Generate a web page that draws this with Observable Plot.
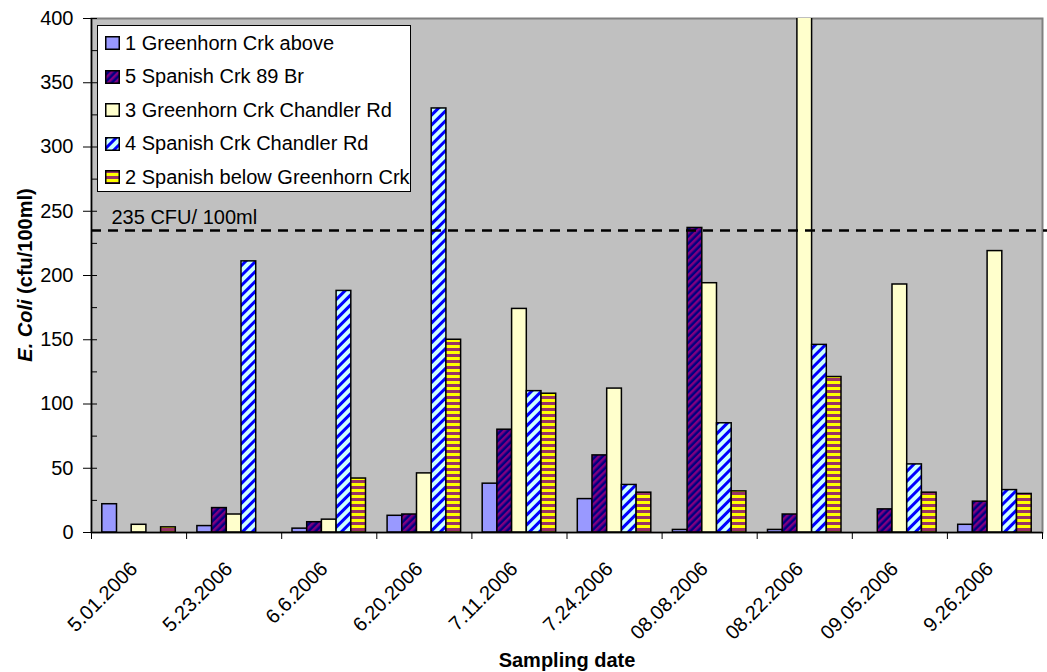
<!DOCTYPE html>
<html>
<head>
<meta charset="utf-8">
<script src="https://cdn.jsdelivr.net/npm/d3@7"></script>
<script src="https://cdn.jsdelivr.net/npm/@observablehq/plot@0.6"></script>
<style>
  html, body { margin: 0; padding: 0; background: #fff; }
  body { font-family: "Liberation Sans", Arial, sans-serif; }
  #wrap { position: relative; width: 1047px; height: 672px; }
  #legend {
    position: absolute; left: 97px; top: 25px; width: 314px; height: 167px;
    background: #fff; border: 1.5px solid #000; box-sizing: border-box;
    font-size: 20px; color: #000;
  }
  .item { position: absolute; left: 0; height: 24px; display: flex; align-items: center; white-space: nowrap; }
  .item svg { margin-left: 7px; margin-right: 5px; }
</style>
</head>
<body>
<svg width="0" height="0" style="position:absolute">
  <defs>
    <pattern id="pat2" patternUnits="userSpaceOnUse" width="5" height="5" patternTransform="rotate(45)">
      <rect width="5" height="5" fill="#000080"></rect>
      <rect width="2.5" height="5" fill="#800080"></rect>
    </pattern>
    <pattern id="pat4" patternUnits="userSpaceOnUse" width="7" height="7" patternTransform="rotate(45)">
      <rect width="7" height="7" fill="#CCFFFF"></rect>
      <rect width="3" height="7" fill="#0000FF"></rect>
    </pattern>
    <pattern id="pat5" patternUnits="userSpaceOnUse" width="6" height="6">
      <rect width="6" height="6" fill="#FFFF00"></rect>
      <rect width="6" height="3" fill="#993366"></rect>
    </pattern>
  </defs>
</svg>
<div id="wrap"></div>
<script>
// ---- data ----
const dates = ["5.01.2006","5.23.2006","6.6.2006","6.20.2006","7.11.2006","7.24.2006","08.08.2006","08.22.2006","09.05.2006","9.26.2006"];
const seriesNames = ["1 Greenhorn Crk above","5 Spanish Crk 89 Br","3 Greenhorn Crk Chandler Rd","4 Spanish Crk Chandler Rd","2 Spanish below Greenhorn Crk"];
const greenhornAbove   = [22, 5, 3, 13, 38, 26, 2, 2, null, 6];
const spanish89Br      = [null, 19, 8, 14, 80, 60, 237, 14, 18, 24];
const greenhornChandler= [6, 14, 10, 46, 174, 112, 194, 420, 193, 219];
const spanishChandler  = [null, 211, 188, 330, 110, 37, 85, 146, 53, 33];
const spanishBelow     = [4, null, 42, 150, 108, 31, 32, 121, 31, 30];
const yTicks = [0, 50, 100, 150, 200, 250, 300, 350, 400];
const yMinorTicks = [0, 25, 50, 75, 100, 125, 150, 175, 200, 225, 250, 275, 300, 325, 350, 375, 400];
const threshold = 235;
const thresholdLabel = "235 CFU/ 100ml";

const seriesValues = [greenhornAbove, spanish89Br, greenhornChandler, spanishChandler, spanishBelow];
const fills = ["#9999FF", "url(#pat2)", "#FFFFCC", "url(#pat4)", "url(#pat5)"];

const rows = [];
seriesValues.forEach((vals, si) => vals.forEach((v, di) => {
  if (v != null) rows.push({di, si, date: dates[di], series: seriesNames[si], value: v});
}));

const barW = 0.1546;
const pad = (1 - 5 * barW) / 2;
const font = '"Liberation Sans", Arial, sans-serif';

const chart = Plot.plot({
  width: 1047,
  height: 672,
  marginLeft: 91,
  marginRight: 5,
  marginTop: 18,
  marginBottom: 140,
  style: {fontFamily: font, fontSize: "20px", color: "#000", background: "#fff"},
  x: {domain: [0, dates.length], axis: null},
  y: {domain: [0, 400], axis: null},
  marks: [
    Plot.frame({fill: "#C0C0C0", stroke: "#808080", strokeWidth: 2}),
    Plot.rectY(rows, {
      x1: d => d.di + pad + d.si * barW,
      x2: d => d.di + pad + (d.si + 1) * barW,
      y1: 0, y2: "value",
      fill: d => fills[d.si],
      stroke: "#000", strokeWidth: 1.5,
      clip: true
    }),
    Plot.ruleY([threshold], {stroke: "#000", strokeWidth: 2.5, strokeDasharray: "10,7", insetRight: -5}),
    Plot.text([thresholdLabel], {x: () => 0, y: () => threshold, text: d => d, textAnchor: "start", dx: 20, dy: -13, fontSize: 20, fill: "#000"}),
    Plot.ruleX([0], {stroke: "#000", strokeWidth: 1.5}),
    Plot.ruleY([0], {stroke: "#000", strokeWidth: 1.5}),
    Plot.axisY(yTicks, {tickSize: 8, tickPadding: 10, fontSize: 20, stroke: "#000", fill: "#000", label: null}),
    Plot.axisY(yMinorTicks, {tickSize: -6, tickFormat: () => "", stroke: "#000", label: null}),
    Plot.axisX(d3.range(dates.length + 1), {tickSize: 7, tickFormat: () => "", stroke: "#000", label: null}),
    Plot.text(dates, {x: (d, i) => i + 0.5, y: () => 0, text: d => d, rotate: -45, textAnchor: "end", dx: -5, dy: 33, fontSize: 20, fill: "#000"}),
    Plot.text(["Sampling date"], {frameAnchor: "bottom", lineAnchor: "middle", dy: 128, fontWeight: "bold", fontSize: 20, fill: "#000"})
  ]
});

// y-axis title with mixed styling
const svg = d3.select(chart);
const yt = svg.append("text")
  .attr("transform", "translate(27,275) rotate(-90)")
  .attr("text-anchor", "middle")
  .attr("dominant-baseline", "middle")
  .attr("font-weight", "bold")
  .attr("font-size", 20)
  .attr("fill", "#000");
yt.append("tspan").attr("font-style", "italic").text("E. Coli");
yt.append("tspan").text(" (cfu/100ml)");

const wrap = document.getElementById("wrap");
wrap.appendChild(chart);

// legend (inside plot area)
const legend = document.createElement("div");
legend.id = "legend";
seriesNames.forEach((name, i) => {
  const item = document.createElement("div");
  item.className = "item";
  item.style.top = (5 + i * 33.5) + "px";
  item.innerHTML = `<svg width="15" height="14"><rect x="0.75" y="0.75" width="13.5" height="12.5" fill="${fills[i]}" stroke="#000" stroke-width="1.5"></rect></svg><span></span>`;
  item.querySelector("span").textContent = name;
  legend.appendChild(item);
});
wrap.appendChild(legend);
</script>
</body>
</html>
